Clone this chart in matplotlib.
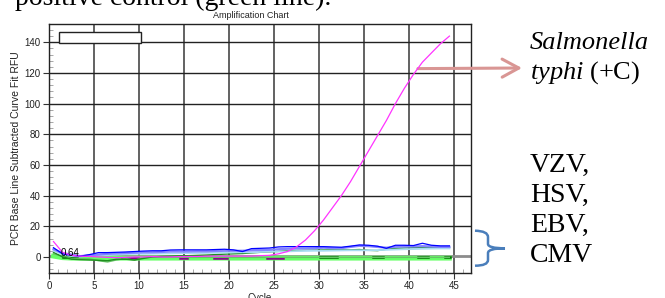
import numpy as np
import matplotlib
matplotlib.use('Agg')
from matplotlib import pyplot as plt
from matplotlib.path import Path
from matplotlib.patches import PathPatch, Rectangle

W, H = 665, 298

# cycle positions of the readings
cycles = np.arange(0.5, 45, 1.0)

# Salmonella typhi (+C)
magenta = [10, 3, 1, 0.5, 0.3, 0, -0.3, -0.5, -0.3,
           0, 0, 0.2, 0, 0, 0.2, 0.3, 0.3, 0.5,
           0.5, 0.5, 0.5, 0.5, 0.5, 0.8, 1.0, 2.0, 3.5,
           6.5, 11, 17, 24, 32, 40, 49, 59, 69,
           79, 89, 100, 110, 119, 127, 133, 139, 144]
blue = [6, 2, 1, 0.5, 1.5, 2.8, 2.8, 3.0, 3.2,
        3.5, 3.8, 4.0, 4.0, 4.5, 4.6, 4.6, 4.6, 4.6,
        4.8, 5.0, 4.6, 3.5, 5.4, 5.6, 5.8, 6.5, 6.7,
        6.7, 6.7, 6.7, 6.7, 6.5, 6.3, 7.0, 7.8, 7.6,
        7.0, 5.6, 7.6, 7.6, 7.4, 8.9, 7.6, 7.2, 7.2]
periwinkle = [5, 2.5, 1.5, 0.5, 1.0, 1.5, 2.0, 2.3, 2.5,
              2.7, 3.0, 3.0, 3.2, 3.5, 3.5, 3.5, 3.6, 3.6,
              3.8, 4.0, 4.0, 4.0, 4.3, 4.5, 4.6, 5.0, 5.3,
              5.5, 5.5, 5.6, 6.0, 5.7, 5.7, 6.5, 7.2, 7.0,
              6.5, 6.0, 6.6, 6.8, 6.8, 7.0, 6.8, 6.5, 6.5]
cyan = [4, 1.5, 0.5, 0.3, 0.8, 1.0, 1.2, 1.5, 1.8,
        2.0, 2.0, 2.1, 2.2, 2.3, 2.4, 2.5, 2.5, 2.6,
        2.7, 2.8, 2.9, 3.0, 3.0, 3.2, 3.4, 3.5, 3.6,
        3.8, 3.9, 4.0, 4.0, 4.1, 4.2, 4.3, 4.3, 4.3,
        4.4, 4.6, 4.8, 5.0, 5.1, 5.3, 5.4, 5.5, 5.5]
dkgreen = [3, 0, -1.5, -1.8, -2, -2.2, -2.5, -1.5, -1.5,
           -2.0, -1.0, 0, 0.3, 0.5, 0.7, 0.8, 1.0, 1.2,
           1.5, 1.8, 2.0, 2.2, 2.6, 3.0, 3.3, 3.6, 4.1,
           4.2, 4.3, 4.4, 4.5, 4.6, 4.6, 4.6, 4.8, 4.3,
           4.1, 5.0, 5.6, 5.8, 6.0, 6.0, 6.0, 6.0, 6.0]
ltgreen = [2, 0.5, -1.0, -1.0, -1.2, -2.5, -3.3, -2.0, -1.0,
           -2.2, -0.5, 0, -0.3, -0.3, -0.3, -0.3, -0.3, -0.3,
           -0.3, -0.3, -0.3, -0.3, -0.3, -0.3, -0.3, -0.3, -0.3,
           -0.3, -0.3, -0.3, -0.3, -0.3, -0.3, -0.3, -0.3, -0.3,
           -0.3, -0.3, -0.3, -0.3, -0.3, -0.3, -0.3, -0.3, -0.3]
green = [0.5, -0.5, -0.8, -0.8, -0.8, -0.8, -0.8, -0.8, -0.8,
         -0.8, -0.8, -0.8, -0.8, -0.8, -0.8, -0.8, -0.8, -0.8,
         -0.8, -0.8, -0.8, -0.8, -0.8, -0.8, -0.8, -0.8, -0.8,
         -0.8, -0.8, -0.8, -0.8, -0.8, -0.8, -0.8, -0.8, -0.8,
         -0.8, -0.8, -0.8, -0.8, -0.8, -0.8, -0.8, -0.8, -0.8]
# short pieces of other curves peeking over the green one
purple_x = [8.1, 9.9, np.nan, 14.6, 15.3, np.nan, 18.3, 19.8, np.nan, 24.2, 26.0]
purple_y = [-0.5, -0.5, np.nan, -0.5, -0.5, np.nan, -0.5, -0.5, np.nan, -0.5, -0.5]
dash_x = [1.6, 3.1, np.nan, 30.1, 32.0, np.nan, 36.0, 37.1, np.nan, 41.0, 42.1, np.nan, 44.0, 44.6]
dash_y = [0.0, 0.0, np.nan, -0.2, -0.2, np.nan, -0.2, -0.2, np.nan, 0.2, 0.2, np.nan, -0.2, -0.2]
threshold = 0.64

sans = 'Liberation Sans'
serif = 'Liberation Serif'
plt.rcParams['mathtext.fontset'] = 'custom'
plt.rcParams['mathtext.rm'] = serif
plt.rcParams['mathtext.it'] = serif + ':italic'

fig = plt.figure(figsize=(W / 100, H / 100), dpi=100)
ax = fig.add_axes([49 / W, 1 - 273 / H, (471 - 49) / W, (273 - 24.3) / H])


def px(x, y):
    return (x / W, 1 - y / H)


ax.set_xlim(0, 46.9)
ax.set_ylim(-10.5, 151.7)
ax.set_xticks(range(0, 46, 5))
ax.set_xticks(range(0, 47), minor=True)
ax.set_yticks(range(0, 141, 20))
ax.set_yticks(range(-8, 152, 4), minor=True)
ax.tick_params(which='major', direction='out', length=4, width=0.8, color='#333333',
               labelsize=7, labelcolor='#222222', pad=2)
ax.tick_params(which='minor', direction='in', length=3, width=0.6, color='#999999')
for lab in ax.get_xticklabels() + ax.get_yticklabels():
    lab.set_family(sans)
for v in range(5, 46, 5):
    ax.axvline(v, color='#555555', lw=1.3, zorder=1)
for v in range(20, 141, 20):
    ax.axhline(v, color='#222222', lw=1.0, zorder=1)
for sp in ax.spines.values():
    sp.set_color('#222222')
    sp.set_linewidth(1.0)

ax.axhline(threshold, color='#8c8c8c', lw=2.0, zorder=2)
ax.plot(cycles, green, color='#66ff66', lw=3.5, zorder=3)
ax.plot(purple_x, purple_y, color='#8b008b', lw=1.8, zorder=4)
ax.plot(dash_x, dash_y, color='#006400', lw=1.8, zorder=4)
ax.plot(cycles, ltgreen, color='#66c266', lw=1.0, zorder=4)
ax.plot(cycles, dkgreen, color='#1f8f1f', lw=1.0, zorder=5)
ax.plot(cycles, cyan, color='#a8dcf2', lw=1.3, zorder=5)
ax.plot(cycles, periwinkle, color='#8484ff', lw=1.6, zorder=6)
ax.plot(cycles, blue, color='#0000ff', lw=0.9, zorder=7)
ax.plot(cycles, magenta, color='#ff33ff', lw=0.9, zorder=8)

ax.text(1.3, threshold, '%.2f' % threshold, fontsize=7, family=sans, va='baseline', zorder=9)
ax.add_patch(Rectangle((1.15, 139.3), 9.05, 7.4, facecolor='white', edgecolor='#222222',
                       lw=1.0, zorder=9))

ax.set_xlabel('Cycle', fontsize=7, family=sans, color='#222222')
ax.xaxis.set_label_coords(0.5, -0.082)
ax.set_ylabel('PCR Base Line Subtracted Curve Fit RFU', fontsize=7.5, family=sans, color='#222222')
ax.yaxis.set_label_coords(-0.067, 0.5)
fig.text(*px(251, 17.5), 'Amplification Chart', fontsize=6.5, family=sans, ha='center',
         va='baseline', color='#222222')

# text around the chart
fig.text(*px(15, 5), 'positive control (green line).', fontsize=20, family=serif, va='baseline')
fig.text(*px(530, 49), 'Salmonella', fontsize=19, family=serif, style='italic', va='baseline')
fig.text(*px(530, 79), r'$\mathit{typhi}$ (+C)', fontsize=19, family=serif, va='baseline')
for i, name in enumerate(['VZV,', 'HSV,', 'EBV,', 'CMV']):
    fig.text(*px(530, 172 + 30 * i), name, fontsize=20, family=serif, va='baseline')

ax.annotate('', xy=px(522, 68), xycoords='figure fraction', xytext=(41.0, 122.8),
            textcoords='data', annotation_clip=False,
            arrowprops=dict(arrowstyle='->,head_length=1.2,head_width=0.65', color='#d99694',
                            lw=2.2, shrinkA=0, shrinkB=0, mutation_scale=10))

brace = [(475, 230.7), (488, 231), (488, 237), (488, 244), (488, 248.3), (505, 248.3),
         (488, 248.3), (488, 253), (488, 260), (488, 265.7), (475, 265.7)]
codes = [Path.MOVETO, Path.CURVE3, Path.CURVE3, Path.LINETO, Path.CURVE3, Path.CURVE3,
         Path.CURVE3, Path.CURVE3, Path.LINETO, Path.CURVE3, Path.CURVE3]
fig.add_artist(PathPatch(Path([px(x, y) for x, y in brace], codes), transform=fig.transFigure,
                         fill=False, edgecolor='#4a7ebb', lw=1.8))

fig.savefig('out.png', dpi=100)
